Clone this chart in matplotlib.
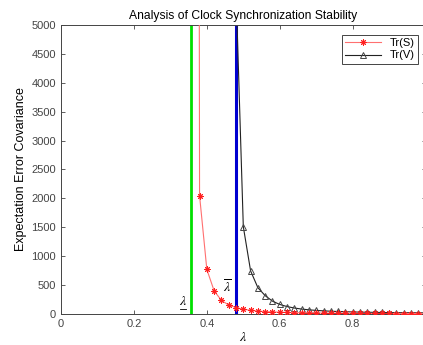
import numpy as np
import matplotlib.pyplot as plt

plt.rcParams['font.family'] = ['Liberation Sans', 'DejaVu Sans']
plt.rcParams['mathtext.fontset'] = 'stix'

# sample points (lambda) and the two traces
lam = [0.36, 0.38, 0.40, 0.42, 0.44, 0.46, 0.48, 0.50, 0.52, 0.54, 0.56, 0.58,
       0.60, 0.62, 0.64, 0.66, 0.68, 0.70, 0.72, 0.74, 0.76, 0.78, 0.80, 0.82,
       0.84, 0.86, 0.88, 0.90, 0.92, 0.94, 0.96, 0.98, 1.00]
tr_s = [90000, 2050, 770, 400, 235, 155, 110, 82, 64, 50, 42, 36,
        31, 27, 24, 21, 19, 17, 16, 15, 14, 13, 12, 11,
        10, 10, 9, 9, 8, 8, 8, 7, 7]
tr_v = [np.nan, np.nan, np.nan, np.nan, np.nan, np.nan, 5600, 1510, 745, 455, 317, 222,
        165, 128, 103, 85, 72, 62, 54, 48, 43, 39, 35, 32,
        30, 28, 26, 24, 23, 22, 21, 20, 19]

lam_low = 0.356   # lower bound (green)
lam_high = 0.479  # upper bound (blue)

fig = plt.figure(figsize=(4.23, 3.45), dpi=100)
ax = fig.add_axes([0.1442, 0.0899, 0.862, 0.8376])

ax.axvline(lam_low, color='#00e000', lw=2, zorder=1)
ax.axvline(lam_high, color='#0000d0', lw=2.2, zorder=1)

ax.plot(lam, tr_s, color='#ff7070', lw=0.8, marker=(8, 2, 0), ms=4.5,
        mec='#ff2020', mew=0.7, label='Tr(S)', zorder=3)
ax.plot(lam, tr_v, color='#222222', lw=0.8, marker='^', ms=5,
        mec='#444444', mfc='none', mew=0.7, label='Tr(V)', zorder=2)

# bound labels
ax.text(0.335, 110, r'$\lambda$', fontsize=10, ha='center', va='bottom')
ax.plot([0.327, 0.343], [90, 90], color='k', lw=0.6)
ax.text(0.456, 310, r'$\overline{\lambda}$', fontsize=10, ha='center', va='bottom')

ax.set_xlim(0, 1)
ax.set_ylim(0, 5000)
ax.set_xticks([0, 0.2, 0.4, 0.6, 0.8])
ax.set_xticklabels(['0', '0.2', '0.4', '0.6', '0.8'])
ax.set_yticks(np.arange(0, 5001, 500))
ax.tick_params(direction='in', length=3, labelsize=8, colors='#444444',
               top=True, right=True, width=0.6)
for s in ax.spines.values():
    s.set_color('#444444')
    s.set_linewidth(0.7)

ax.set_title('Analysis of Clock Synchronization Stability', fontsize=8.7, pad=4)
ax.set_xlabel(r'$\lambda$', fontsize=10, labelpad=1)
ax.set_ylabel('Expectation Error Covariance', fontsize=9, labelpad=3)

leg = ax.legend(loc='upper right', fontsize=8, fancybox=False, framealpha=1,
                edgecolor='#444444', handlelength=3.2, borderpad=0.3,
                labelspacing=0.2, bbox_to_anchor=(0.995, 0.985))
leg.get_frame().set_linewidth(0.7)

plt.savefig('out.png', dpi=100)
